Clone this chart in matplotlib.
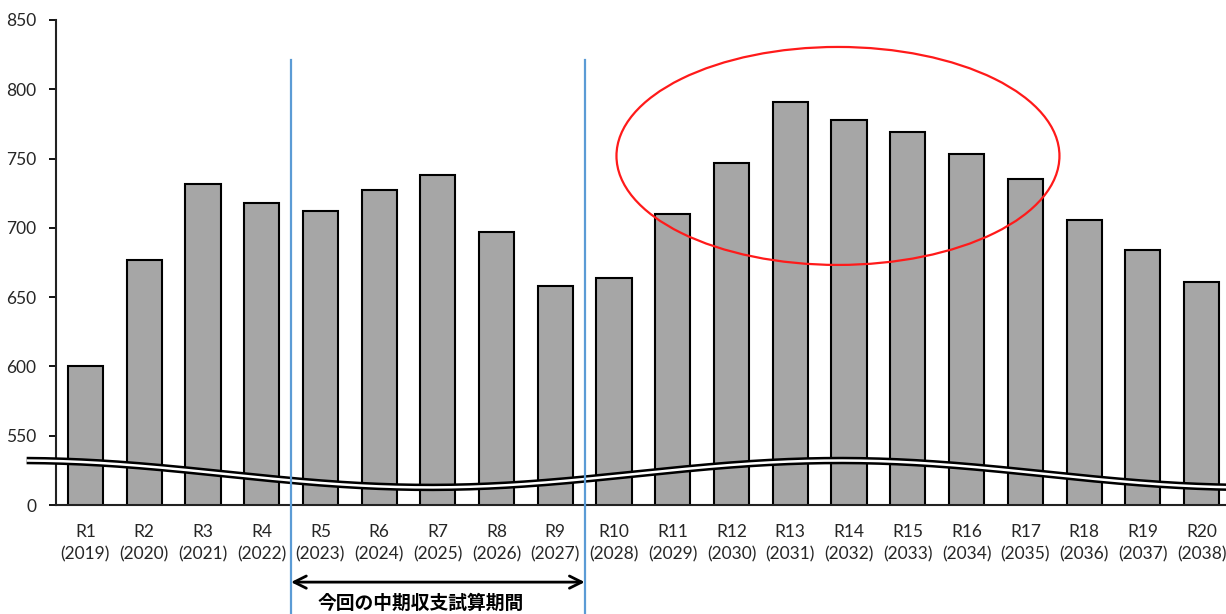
import numpy as np
import matplotlib.pyplot as plt
import matplotlib.transforms as mtransforms
from matplotlib.patches import Ellipse

plt.rcParams['font.family'] = ['Lato', 'DejaVu Sans']

# fiscal years (Reiwa era) and values
eras = ['R1', 'R2', 'R3', 'R4', 'R5', 'R6', 'R7', 'R8', 'R9', 'R10',
        'R11', 'R12', 'R13', 'R14', 'R15', 'R16', 'R17', 'R18', 'R19', 'R20']
years = [2019, 2020, 2021, 2022, 2023, 2024, 2025, 2026, 2027, 2028,
         2029, 2030, 2031, 2032, 2033, 2034, 2035, 2036, 2037, 2038]
values = [600, 677, 732, 718, 712, 727, 738, 697, 658, 664,
          710, 747, 791, 778, 769, 753, 735, 706, 684, 661]

# broken axis: the bottom tick stands for zero
ytick_vals = [500, 550, 600, 650, 700, 750, 800, 850]
ytick_text = ['0', '550', '600', '650', '700', '750', '800', '850']

period_start, period_end = 'R5', 'R9'
period_text = '今回の中期収支試算期間'

fig = plt.figure(figsize=(12.26, 6.14), dpi=100)
ax = fig.add_axes([56 / 1226, 1 - 505 / 614, 1175 / 1226, 485 / 614])

x = np.arange(len(eras))
ax.bar(x, values, width=0.6, color='#a6a6a6', edgecolor='black', linewidth=1.5, zorder=2)

ax.set_xlim(-0.5, 19.5)
ax.set_ylim(500, 850)
ax.set_yticks(ytick_vals)
ax.set_yticklabels(ytick_text)
ax.set_xticks(x)
ax.set_xticklabels(['%s\n(%d)' % (e, y) for e, y in zip(eras, years)], linespacing=1.45)
ax.tick_params(axis='x', length=0, pad=14, labelsize=12.5, labelcolor='#262626')
ax.tick_params(axis='y', length=5, width=1.3, pad=9, labelsize=12.5, labelcolor='#262626')
for side in ['top', 'right']:
    ax.spines[side].set_visible(False)
for side in ['left', 'bottom']:
    ax.spines[side].set_linewidth(1.5)
    ax.spines[side].set_color('#222222')

# axis break mark (double wavy line)
bx = np.linspace(-1.0, 19.6, 400)
by = 522.4 - 9.7 * np.cos(2 * np.pi * (bx - 5.87) / 13.96)
ax.plot(bx, by, color='black', lw=5.4, clip_on=False, zorder=5, solid_capstyle='butt')
ax.plot(bx, by, color='white', lw=1.8, clip_on=False, zorder=6, solid_capstyle='butt')

# mid-term period markers
trans = mtransforms.blended_transform_factory(ax.transData, ax.transAxes)
x0 = eras.index(period_start) - 0.5
x1 = eras.index(period_end) + 0.5
for xv in (x0, x1):
    ax.plot([xv, xv], [0.917, -0.23], color='#5b9bd5', lw=1.6, transform=trans,
            clip_on=False, zorder=7)
ax.annotate('', xy=(x0, -0.159), xytext=(x1, -0.159), xycoords=trans, textcoords=trans,
            arrowprops=dict(arrowstyle='<->', color='black', lw=2,
                            mutation_scale=22, shrinkA=0, shrinkB=0))
ax.text(5.71, -0.202, period_text, transform=trans, ha='center', va='center',
        fontsize=13.5, fontweight='bold', family=['Noto Sans CJK JP', 'DejaVu Sans'])

# highlight of the peak years
ax.add_patch(Ellipse((12.81, 751.9), 7.54, 157.3, fill=False, edgecolor='#ff1a1a',
                     lw=1.6, zorder=8))

fig.savefig('out.png', dpi=100)
